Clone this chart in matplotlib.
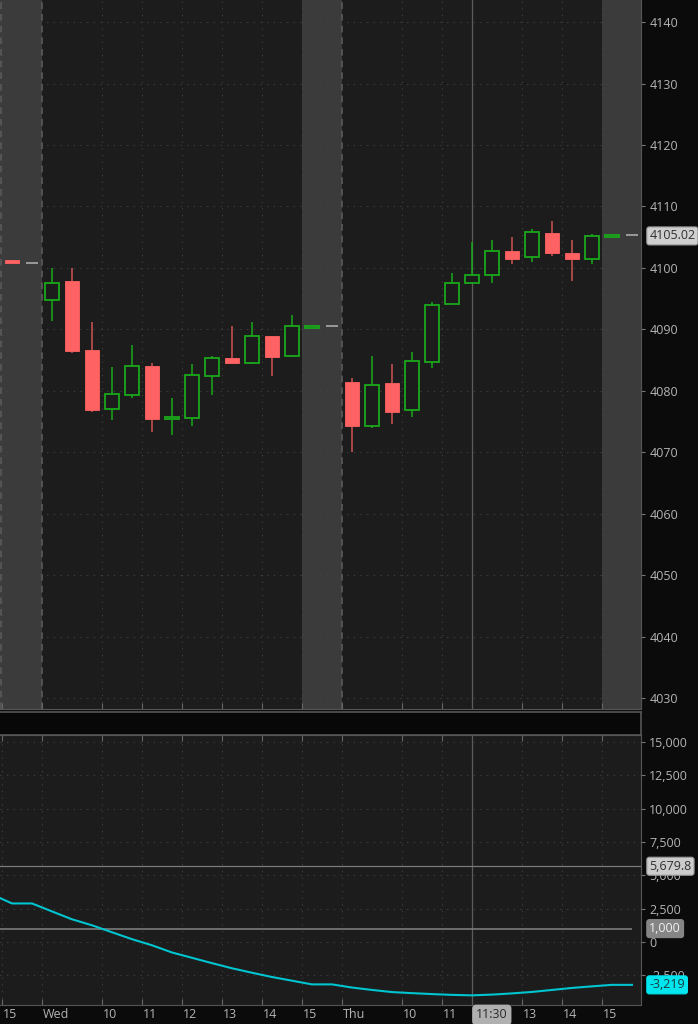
import matplotlib.pyplot as plt
import numpy as np
from matplotlib.transforms import blended_transform_factory

plt.rcParams['font.family'] = ['Open Sans', 'DejaVu Sans']

# 30-minute bars, one slot per bar (slot 0..31)
opens = [4101.3, 4100.8, 4094.7, 4097.8, 4086.6, 4077.0, 4079.3, 4084.1, 4075.4, 4075.6,
         4082.4, 4085.3, 4084.5, 4088.9, 4085.7, 4090.2, 4090.6,
         4081.4, 4074.3, 4081.2, 4076.8, 4084.7, 4094.2, 4097.6, 4098.8, 4102.8,
         4101.7, 4105.7, 4102.5, 4101.5, 4105.0, 4105.3]
highs = [4101.3, 4100.8, 4099.9, 4099.9, 4091.2, 4083.8, 4087.5, 4084.5, 4078.8, 4084.4,
         4085.7, 4090.5, 4091.2, 4088.9, 4092.4, 4090.6, 4090.6,
         4082.0, 4085.7, 4084.4, 4086.3, 4094.4, 4099.1, 4104.2, 4104.6, 4105.1,
         4106.4, 4107.6, 4104.6, 4105.5, 4105.3, 4105.3]
lows = [4100.8, 4100.8, 4091.3, 4086.1, 4076.5, 4075.3, 4078.8, 4073.3, 4072.8, 4074.2,
        4079.3, 4084.4, 4084.4, 4082.4, 4085.7, 4090.2, 4090.6,
        4070.1, 4074.0, 4074.6, 4075.8, 4083.7, 4094.2, 4097.6, 4097.6, 4100.7,
        4101.0, 4101.9, 4097.8, 4100.7, 4105.0, 4105.3]
closes = [4100.8, 4100.8, 4097.6, 4086.4, 4076.9, 4079.4, 4084.1, 4075.4, 4075.7, 4082.6,
          4085.3, 4084.5, 4088.9, 4085.5, 4090.5, 4090.6, 4090.6,
          4074.2, 4081.0, 4076.6, 4084.8, 4094.0, 4097.6, 4098.9, 4102.8, 4101.5,
          4105.8, 4102.4, 4101.4, 4105.2, 4105.3, 4105.3]
last_price = "4105.02"

# lower study (one value per slot, starting one slot before the view)
osc_vals = [3560, 2888, 2888, 2290, 1700, 1250, 727, 208, -250, -790, -1190, -1590,
            -1975, -2310, -2630, -2905, -3184, -3184, -3420, -3600, -3760, -3840,
            -3910, -3970, -4005, -3950, -3860, -3750, -3600, -3450, -3330, -3219, -3219]
osc_last = "-3,219"
level_hi, level_hi_txt = 5679.8, "5,679.8"
level_lo, level_lo_txt = 1000, "1,000"

# time axis
tick_pos = [-0.5, 1.5, 4.5, 6.5, 8.5, 10.5, 12.5, 14.5, 16.5, 19.5, 21.5, 25.5, 27.5, 29.5]
tick_txt = ["15", "Wed", "10", "11", "12", "13", "14", "15", "Thu", "10", "11", "13", "14", "15"]
session_starts = [1.5, 16.5]
after_hours = [(-0.6, 1.5), (14.5, 16.5), (29.5, 31.45)]
cursor_slot, cursor_txt = 23, "11:30"

price_ticks = list(range(4030, 4141, 10))
osc_ticks = [15000, 12500, 10000, 7500, 5000, 2500, 0, -2500]

BG = '#1c1c1c'
GREEN = '#1aa81a'
RED = '#ff6262'
RED_WICK = '#d05454'
TXT = '#b4b4b4'
GRID = '#444444'
FS = 9
XMIN, XMAX = -0.6, 31.45

fig = plt.figure(figsize=(6.98, 10.24), dpi=100, facecolor='#0b0b0b')
ax = fig.add_axes([0, 0.3076, 0.9183, 0.6924], facecolor=BG)
band = fig.add_axes([0, 0.2822, 0.9183, 0.0225], facecolor='#080808')
ax2 = fig.add_axes([0, 0.0186, 0.9183, 0.2637], facecolor=BG)

# --- price panel ---
for a, b in after_hours:
    ax.axvspan(a, b, color='#3b3b3b', zorder=0, lw=0)
for p in price_ticks:
    ax.axhline(p, color=GRID, lw=0.8, ls=(0, (1, 5)), zorder=1)
for t in tick_pos:
    if t in session_starts:
        ax.axvline(t, color='#5a5a5a', lw=1.2, ls=(0, (4, 3)), zorder=1)
    else:
        ax.axvline(t, color=GRID, lw=0.8, ls=(0, (1, 5)), zorder=1)
ax.axvline(XMIN + 0.03, color='#5a5a5a', lw=1.2, ls=(0, (4, 3)), zorder=1)
ax.axvline(cursor_slot, color='#5c5c5c', lw=0.9, zorder=2)

for i in range(len(opens)):
    o, h, l, c = opens[i], highs[i], lows[i], closes[i]
    if c > o:
        ax.vlines(i, l, h, color=GREEN, lw=1.1, zorder=3)
        ax.bar(i, c - o, 0.7, bottom=o, facecolor=BG, edgecolor=GREEN, lw=1.3, zorder=4)
    elif c < o:
        ax.vlines(i, l, h, color=RED_WICK, lw=1.1, zorder=3)
        ax.bar(i, o - c, 0.7, bottom=c, facecolor=RED, edgecolor=RED, lw=0.6, zorder=4)
    else:
        ax.hlines(c, i - 0.3, i + 0.3, color='#a0a0a0', lw=1.3, zorder=4)

ax.set_xlim(XMIN, XMAX)
ax.set_ylim(4028.2, 4143.6)
ax.yaxis.tick_right()
ax.set_yticks(price_ticks)
ax.set_yticklabels([str(p) for p in price_ticks])
ax.tick_params(axis='y', colors='#777777', labelcolor=TXT, labelsize=FS, length=3, pad=3)
ax.set_xticks(tick_pos)
ax.tick_params(axis='x', direction='in', length=4, colors='#666666', labelbottom=False)
for s in ax.spines.values():
    s.set_color('#555555')
ax.spines['left'].set_visible(False)
ax.spines['top'].set_visible(False)

tr = blended_transform_factory(ax.transAxes, ax.transData)
ax.text(1.013, 4105.2, last_price, transform=tr, ha='left', va='center', fontsize=FS,
        color='#303030', clip_on=False,
        bbox=dict(boxstyle='round,pad=0.2', fc='#cfcfcf', ec='#9a9a9a', lw=0.8))

# --- separator band ---
band.set_xticks([])
band.set_yticks([])
for s in band.spines.values():
    s.set_color('#555555')
    s.set_linewidth(1.2)
band.spines['left'].set_visible(False)

# --- study panel ---
for v in osc_ticks:
    ax2.axhline(v, color=GRID, lw=0.8, ls=(0, (1, 5)), zorder=1)
for t in tick_pos:
    ax2.axvline(t, color=GRID, lw=0.8, ls=(0, (1, 5)), zorder=1)
ax2.axvline(cursor_slot, color='#5c5c5c', lw=0.9, zorder=2)
ax2.axhline(level_hi, color='#7a7a7a', lw=0.9, zorder=2)
ax2.hlines(level_lo, XMIN, len(opens) - 1, color='#7a7a7a', lw=1.2, zorder=2)
ax2.plot(np.arange(-1, len(osc_vals) - 1), osc_vals, color='#00c4cf', lw=1.5, zorder=3)

ax2.set_xlim(XMIN, XMAX)
ax2.set_ylim(-4726, 15529)
ax2.yaxis.tick_right()
ax2.set_yticks(osc_ticks)
ax2.set_yticklabels([f"{v:,}" for v in osc_ticks])
ax2.tick_params(axis='y', colors='#777777', labelcolor=TXT, labelsize=FS, length=3, pad=3)
ax2.set_xticks(tick_pos)
ax2.tick_params(axis='x', direction='in', length=4, colors='#666666', labelbottom=False,
                top=True)
for s in ax2.spines.values():
    s.set_color('#555555')
ax2.spines['left'].set_visible(False)

tr2 = blended_transform_factory(ax2.transAxes, ax2.transData)
ax2.text(1.013, level_hi, level_hi_txt, transform=tr2, ha='left', va='center', fontsize=FS,
         color='#303030', clip_on=False, zorder=5,
         bbox=dict(boxstyle='round,pad=0.2', fc='#cccccc', ec='#999999', lw=0.8))
ax2.text(1.013, level_lo, level_lo_txt, transform=tr2, ha='left', va='center', fontsize=FS,
         color='#f0f0f0', clip_on=False, zorder=5,
         bbox=dict(boxstyle='round,pad=0.2', fc='#858585', ec='#858585', lw=0.8))
ax2.text(1.013, osc_vals[-1], osc_last, transform=tr2, ha='left', va='center', fontsize=FS,
         color='#1a3a3a', clip_on=False, zorder=5,
         bbox=dict(boxstyle='round,pad=0.2', fc='#00e5ee', ec='#00e5ee', lw=0.8))

# time labels
trx = blended_transform_factory(ax2.transData, ax2.transAxes)
for t, s in zip(tick_pos, tick_txt):
    ax2.text(t + 0.05, -0.037, s, transform=trx, ha='left', va='center', fontsize=FS,
             color=TXT, clip_on=False)
ax2.text(cursor_slot + 0.2, -0.037, cursor_txt, transform=trx, ha='left', va='center',
         fontsize=FS, color='#2a2a2a', clip_on=False, zorder=6,
         bbox=dict(boxstyle='round,pad=0.25', fc='#b0b0b0', ec='#b0b0b0'))

fig.savefig('out.png', dpi=100, facecolor=fig.get_facecolor())
